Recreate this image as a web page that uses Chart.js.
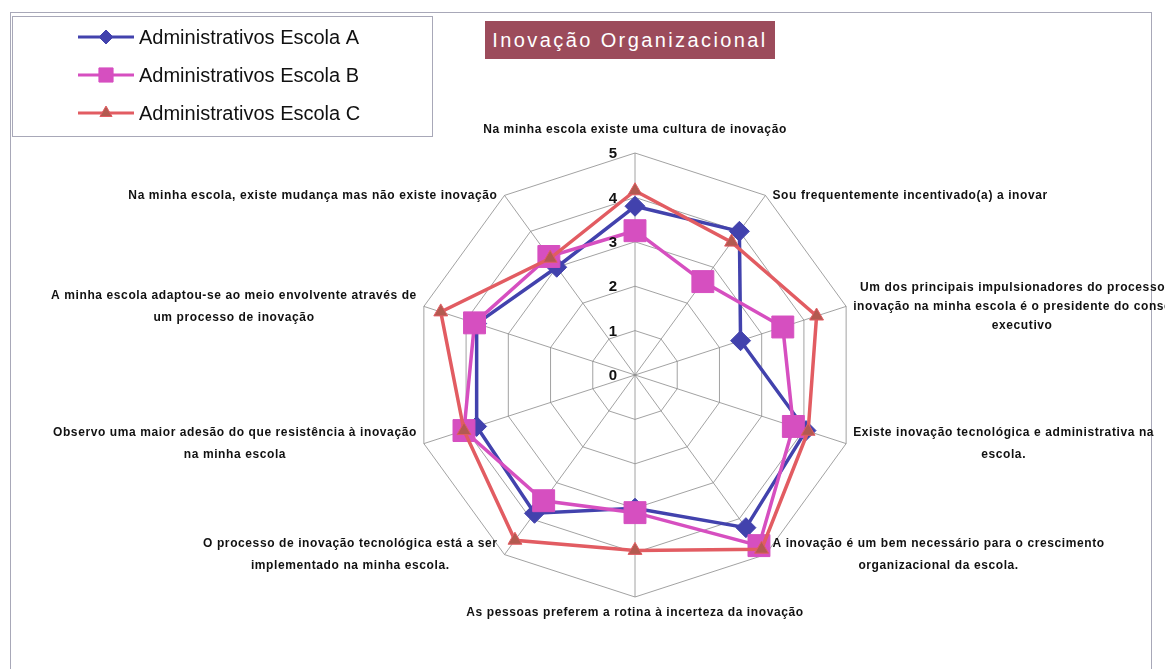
<!DOCTYPE html>
<html>
<head>
<meta charset="utf-8">
<script src="https://cdn.jsdelivr.net/npm/chart.js@4/dist/chart.umd.min.js"></script>
<style>
  body { margin:0; background:#fff; width:1165px; height:669px; overflow:hidden; position:relative; font-family:"Liberation Sans", Arial, sans-serif; }
  #frame { position:absolute; left:10px; top:12px; width:1140px; height:700px; border:1px solid #a8a8b8; }
  #legendBox { position:absolute; left:12px; top:16px; width:419px; height:119px; border:1px solid #a8a8b8; background:#fff; }
  #title { position:absolute; left:485px; top:21px; width:290px; height:38px; background:#9c4b5b; color:#fff;
           font-size:20px; letter-spacing:2.4px; line-height:38px; text-align:center; }
  #wrap { position:absolute; left:0; top:0; width:1165px; height:669px; }
</style>
</head>
<body>
<div id="frame"></div>
<div id="legendBox"></div>
<div id="title">Inovação Organizacional</div>
<div id="wrap"><canvas id="radar" width="1165" height="669"></canvas></div>
<script>
// categories (one per axis, split into lines as in the picture)
var categories = [
  ["Na minha escola existe uma cultura de inovação"],
  ["Sou frequentemente incentivado(a) a inovar"],
  ["Um dos principais impulsionadores do processo de", "inovação na minha escola é o presidente do conselho", "executivo"],
  ["Existe inovação tecnológica e administrativa na", "escola."],
  ["A inovação é um bem necessário para o crescimento", "organizacional da escola."],
  ["As pessoas preferem a rotina à incerteza da inovação"],
  ["O processo de inovação tecnológica está a ser", "implementado na minha escola."],
  ["Observo uma maior adesão do que resistência à inovação", "na minha escola"],
  ["A minha escola adaptou-se ao meio envolvente através de", "um processo de inovação"],
  ["Na minha escola, existe mudança mas não existe inovação"]
]

var seriesNames = ["Administrativos Escola A", "Administrativos Escola B", "Administrativos Escola C"]
var escolaA = [3.8, 4.0, 2.5, 4.05, 4.25, 3.0, 3.85, 3.75, 3.75, 3.0]
var escolaB = [3.25, 2.6, 3.5, 3.75, 4.75, 3.1, 3.5, 4.05, 3.8, 3.3]
var escolaC = [4.15, 3.7, 4.3, 4.1, 4.85, 3.95, 4.6, 4.05, 4.6, 3.25]
var tickValues = [0, 1, 2, 3, 4, 5]

var lineColors = ["#4242ad", "#d64fc0", "#e25c62"]
var markerFill = ["#4242ad", "#d64fc0", "#b35a50"]
var markerStyle = ["rectRot", "rect", "triangle"]
var markerSize = [10, 15.5, 8]

function shape(ctx, style, x, y, r){
    ctx.beginPath()
    if(style == "rectRot"){
        ctx.moveTo(x, y - r); ctx.lineTo(x + r, y); ctx.lineTo(x, y + r); ctx.lineTo(x - r, y)
    } else if(style == "rect"){
        var s = r * Math.SQRT1_2
        ctx.rect(x - s, y - s, 2 * s, 2 * s)
    } else {
        ctx.moveTo(x, y - r); ctx.lineTo(x + r * 0.87, y + r * 0.5); ctx.lineTo(x - r * 0.87, y + r * 0.5)
    }
    ctx.closePath()
}

// axis labels, tick numbers and legend drawn from the radial scale
var extras = {
    id: "extras",
    afterDraw: function(chart){
        var ctx = chart.ctx
        var sc = chart.scales.r
        ctx.save()

        // tick numbers
        ctx.font = "bold 15px 'Liberation Sans', Arial"
        ctx.fillStyle = "#111"
        ctx.textAlign = "right"
        ctx.textBaseline = "middle"
        tickValues.forEach(function(v){
            var d = sc.getDistanceFromCenterForValue(v)
            ctx.fillText(String(v), sc.xCenter - 18, sc.yCenter - d + 1)
        })

        // point labels
        ctx.font = "bold 12px 'Liberation Sans', Arial"
        ctx.letterSpacing = "0.6px"
        ctx.fillStyle = "#111"
        ctx.textAlign = "center"
        categories.forEach(function(lines, i){
            var lh = lines.length == 3 ? 19 : 22
            var p = sc.getPointPosition(i, sc.drawingArea)
            var w = 0
            lines.forEach(function(l){ w = Math.max(w, ctx.measureText(l).width) })
            var cx, top
            var h = lines.length * lh
            if(i == 0){
                cx = p.x; top = p.y - 23 - h / 2
            } else if(i == 5){
                cx = p.x; top = p.y + 16 - h / 2
            } else if(i < 5){
                cx = p.x + 7 + w / 2; top = p.y - h / 2
            } else {
                cx = p.x - 7 - w / 2; top = p.y - h / 2
            }
            lines.forEach(function(l, k){
                ctx.fillText(l, cx, top + lh * k + lh / 2)
            })
        })
        ctx.letterSpacing = "0px"

        // legend
        ctx.font = "20px 'Liberation Sans', Arial"
        ctx.textAlign = "left"
        seriesNames.forEach(function(name, i){
            var y = 37 + i * 38
            ctx.strokeStyle = lineColors[i]
            ctx.lineWidth = 3
            ctx.beginPath(); ctx.moveTo(78, y); ctx.lineTo(134, y); ctx.stroke()
            ctx.fillStyle = markerFill[i]
            ctx.lineWidth = 1
            shape(ctx, markerStyle[i], 106, y, i == 1 ? 10 : 7)
            ctx.fill(); ctx.stroke()
            ctx.fillStyle = "#111"
            ctx.fillText(name, 139, y + 1)
        })
        ctx.restore()
    }
}

var allData = [escolaA, escolaB, escolaC]
var datasets = []
for(var i=0; i<allData.length; i++){
    datasets.push({
        label: seriesNames[i],
        data: allData[i],
        borderColor: lineColors[i],
        borderWidth: 3.5,
        fill: false,
        pointStyle: markerStyle[i],
        pointRadius: markerSize[i],
        pointBackgroundColor: markerFill[i],
        pointBorderColor: lineColors[i],
        pointBorderWidth: 1,
        order: 3 - i
    })
}

var ctxR = document.getElementById("radar").getContext("2d")
var chart = new Chart(ctxR, {
    type: "radar",
    data: { labels: categories.map(function(l){ return l.join(" ") }), datasets: datasets },
    options: {
        responsive: false,
        animation: false,
        layout: { padding: { left: 413, right: 308, top: 153, bottom: 72 } },
        plugins: { legend: { display: false }, tooltip: { enabled: false } },
        elements: { line: { tension: 0 } },
        scales: {
            r: {
                min: 0,
                max: 5,
                ticks: { display: false, stepSize: 1 },
                pointLabels: { display: false },
                grid: { color: "#8a8a8a", lineWidth: 0.8 },
                angleLines: { color: "#8a8a8a", lineWidth: 0.8 }
            }
        }
    },
    plugins: [extras]
})
</script>
</body>
</html>
